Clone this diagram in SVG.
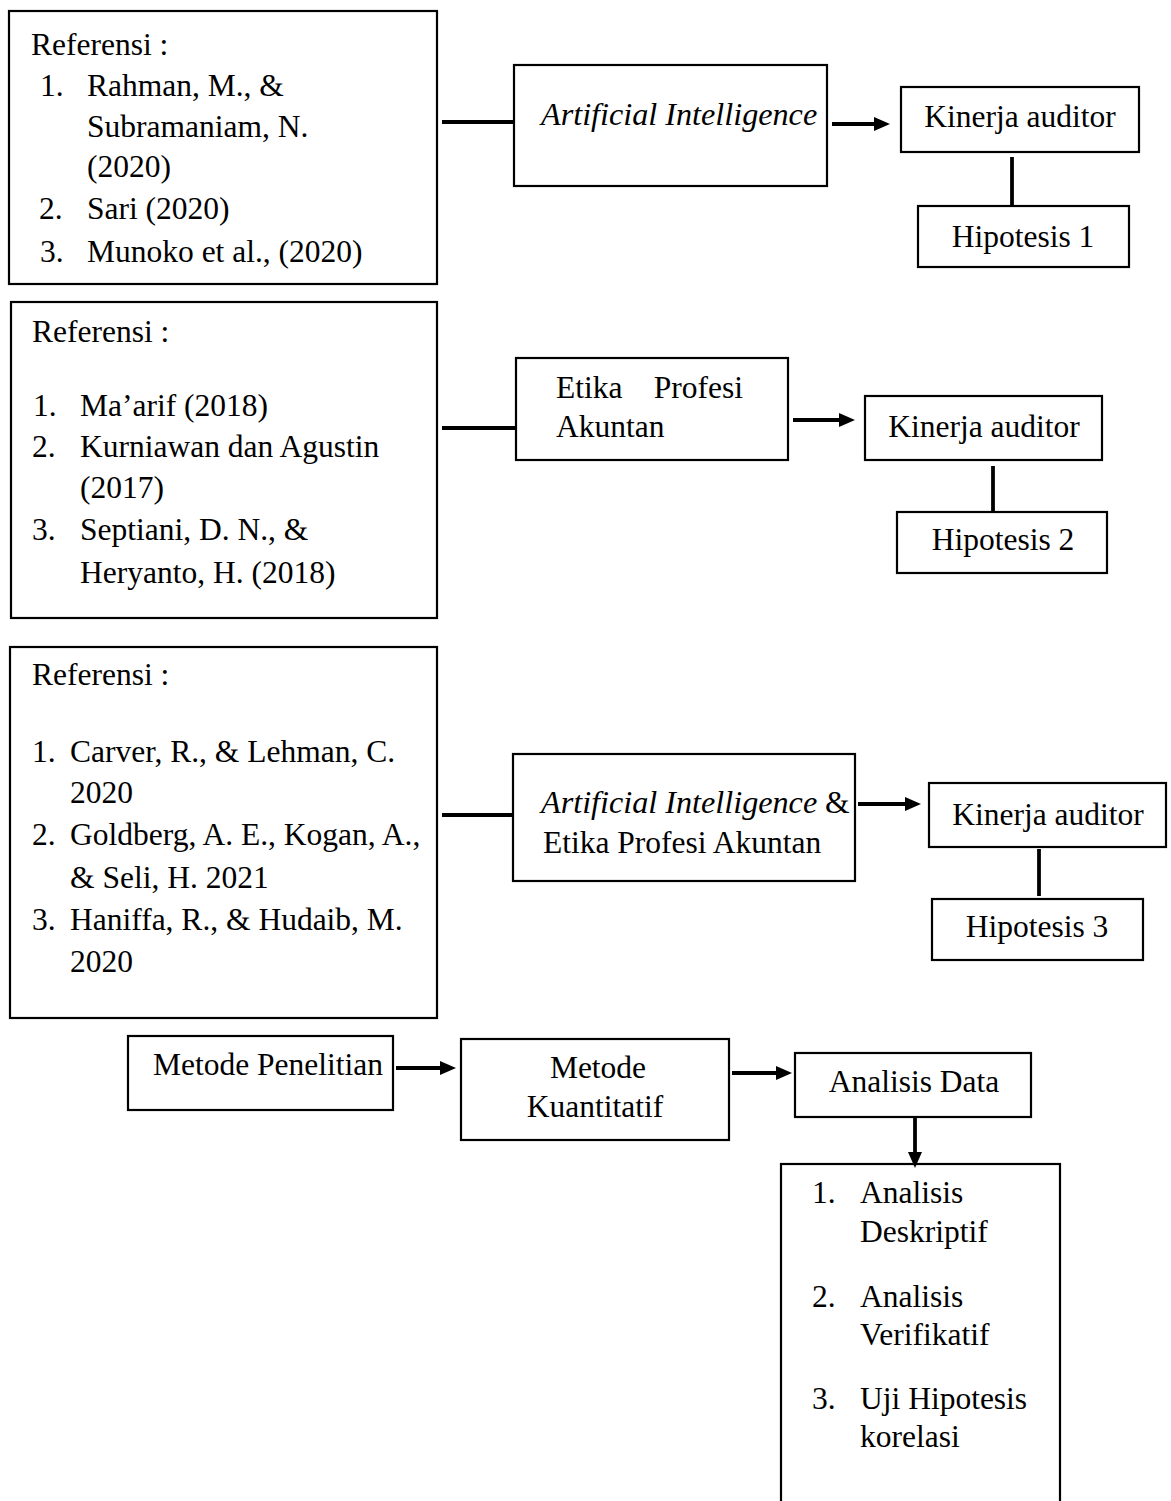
<svg xmlns="http://www.w3.org/2000/svg" width="1171" height="1501" viewBox="0 0 1171 1501">
<style>
.box{fill:#fff;stroke:#000;stroke-width:2.2}
.t{font-family:"Liberation Serif","Times New Roman",serif;font-size:31.5px;fill:#000}
.i{font-style:italic;font-size:32.2px}
.c{stroke:#000;stroke-width:3.8;fill:none}
.m{text-anchor:middle}
</style>
<defs>
<marker id="ah" markerUnits="userSpaceOnUse" markerWidth="18" markerHeight="16" refX="4" refY="7.5" orient="auto">
<path d="M0,0.5 L16,7.5 L0,14.5 z" fill="#000"/>
</marker>
</defs>
<rect width="1171" height="1501" fill="#fff"/>

<g id="ref1">
<rect class="box" x="9" y="11" width="428" height="273"/>
<text class="t" x="31" y="55">Referensi :</text>
<text class="t" x="40" y="96">1.</text>
<text class="t" x="87" y="96">Rahman, M., &amp;</text>
<text class="t" x="87" y="137">Subramaniam, N.</text>
<text class="t" x="87" y="177">(2020)</text>
<text class="t" x="39" y="219">2.</text>
<text class="t" x="87" y="219">Sari (2020)</text>
<text class="t" x="40" y="262">3.</text>
<text class="t" x="87" y="262">Munoko et al., (2020)</text>
</g>

<g id="ai1">
<rect class="box" x="514" y="65" width="313" height="121"/>
<text class="t i" x="541" y="125">Artificial Intelligence</text>
</g>
<g id="kinerja1">
<rect class="box" x="901" y="87" width="238" height="65"/>
<text class="t m" x="1020" y="127">Kinerja auditor</text>
</g>
<g id="hip1">
<rect class="box" x="918" y="206" width="211" height="61"/>
<text class="t m" x="1023" y="247">Hipotesis 1</text>
</g>

<g id="ref2">
<rect class="box" x="11" y="302" width="426" height="316"/>
<text class="t" x="32" y="342">Referensi :</text>
<text class="t" x="33" y="416">1.</text>
<text class="t" x="80" y="416">Ma’arif (2018)</text>
<text class="t" x="32" y="457">2.</text>
<text class="t" x="80" y="457">Kurniawan dan Agustin</text>
<text class="t" x="80" y="498">(2017)</text>
<text class="t" x="32" y="540">3.</text>
<text class="t" x="80" y="540">Septiani, D. N., &amp;</text>
<text class="t" x="80" y="583">Heryanto, H. (2018)</text>
</g>

<g id="etika">
<rect class="box" x="516" y="358" width="272" height="102"/>
<text class="t" x="556" y="398">Etika</text>
<text class="t" x="743" y="398" text-anchor="end">Profesi</text>
<text class="t" x="556" y="437">Akuntan</text>
</g>
<g id="kinerja2">
<rect class="box" x="865" y="396" width="237" height="64"/>
<text class="t m" x="984" y="437">Kinerja auditor</text>
</g>
<g id="hip2">
<rect class="box" x="897" y="512" width="210" height="61"/>
<text class="t m" x="1003" y="550">Hipotesis 2</text>
</g>

<g id="ref3">
<rect class="box" x="10" y="647" width="427" height="371"/>
<text class="t" x="32" y="685">Referensi :</text>
<text class="t" x="32" y="762">1.</text>
<text class="t" x="70" y="762">Carver, R., &amp; Lehman, C.</text>
<text class="t" x="70" y="803">2020</text>
<text class="t" x="32" y="845">2.</text>
<text class="t" x="70" y="845">Goldberg, A. E., Kogan, A.,</text>
<text class="t" x="70" y="888">&amp; Seli, H. 2021</text>
<text class="t" x="32" y="930">3.</text>
<text class="t" x="70" y="930">Haniffa, R., &amp; Hudaib, M.</text>
<text class="t" x="70" y="972">2020</text>
</g>

<g id="aietika">
<rect class="box" x="513" y="754" width="342" height="127"/>
<text class="t" x="541" y="813"><tspan class="i">Artificial Intelligence</tspan> &amp;</text>
<text class="t" x="543" y="853">Etika Profesi Akuntan</text>
</g>
<g id="kinerja3">
<rect class="box" x="929" y="783" width="237" height="64"/>
<text class="t m" x="1048" y="825">Kinerja auditor</text>
</g>
<g id="hip3">
<rect class="box" x="932" y="899" width="211" height="61"/>
<text class="t m" x="1037" y="937">Hipotesis 3</text>
</g>

<g id="metode">
<rect class="box" x="128" y="1036" width="265" height="74"/>
<text class="t" x="153" y="1075">Metode Penelitian</text>
</g>
<g id="kuantitatif">
<rect class="box" x="461" y="1039" width="268" height="101"/>
<text class="t m" x="598" y="1078">Metode</text>
<text class="t m" x="595" y="1117">Kuantitatif</text>
</g>
<g id="analisis">
<rect class="box" x="795" y="1053" width="236" height="64"/>
<text class="t m" x="914" y="1092">Analisis Data</text>
</g>
<g id="list">
<rect class="box" x="781" y="1164" width="279" height="360"/>
<text class="t" x="812" y="1203">1.</text>
<text class="t" x="860" y="1203">Analisis</text>
<text class="t" x="860" y="1242">Deskriptif</text>
<text class="t" x="812" y="1307">2.</text>
<text class="t" x="860" y="1307">Analisis</text>
<text class="t" x="860" y="1345">Verifikatif</text>
<text class="t" x="812" y="1409">3.</text>
<text class="t" x="860" y="1409">Uji Hipotesis</text>
<text class="t" x="860" y="1447">korelasi</text>
</g>

<g id="connectors">
<line class="c" x1="442" y1="122" x2="514" y2="122"/>
<line class="c" x1="832" y1="124" x2="878" y2="124" marker-end="url(#ah)"/>
<line class="c" x1="1012" y1="157" x2="1012" y2="205"/>
<line class="c" x1="442" y1="428" x2="516" y2="428"/>
<line class="c" x1="793" y1="420" x2="843" y2="420" marker-end="url(#ah)"/>
<line class="c" x1="993" y1="466" x2="993" y2="511"/>
<line class="c" x1="442" y1="815" x2="513" y2="815"/>
<line class="c" x1="858" y1="804" x2="909" y2="804" marker-end="url(#ah)"/>
<line class="c" x1="1039" y1="849" x2="1039" y2="896"/>
<line class="c" x1="396" y1="1068" x2="444" y2="1068" marker-end="url(#ah)"/>
<line class="c" x1="732" y1="1073" x2="780" y2="1073" marker-end="url(#ah)"/>
<line class="c" x1="915" y1="1117" x2="915" y2="1156" marker-end="url(#ah)"/>
</g>
</svg>
